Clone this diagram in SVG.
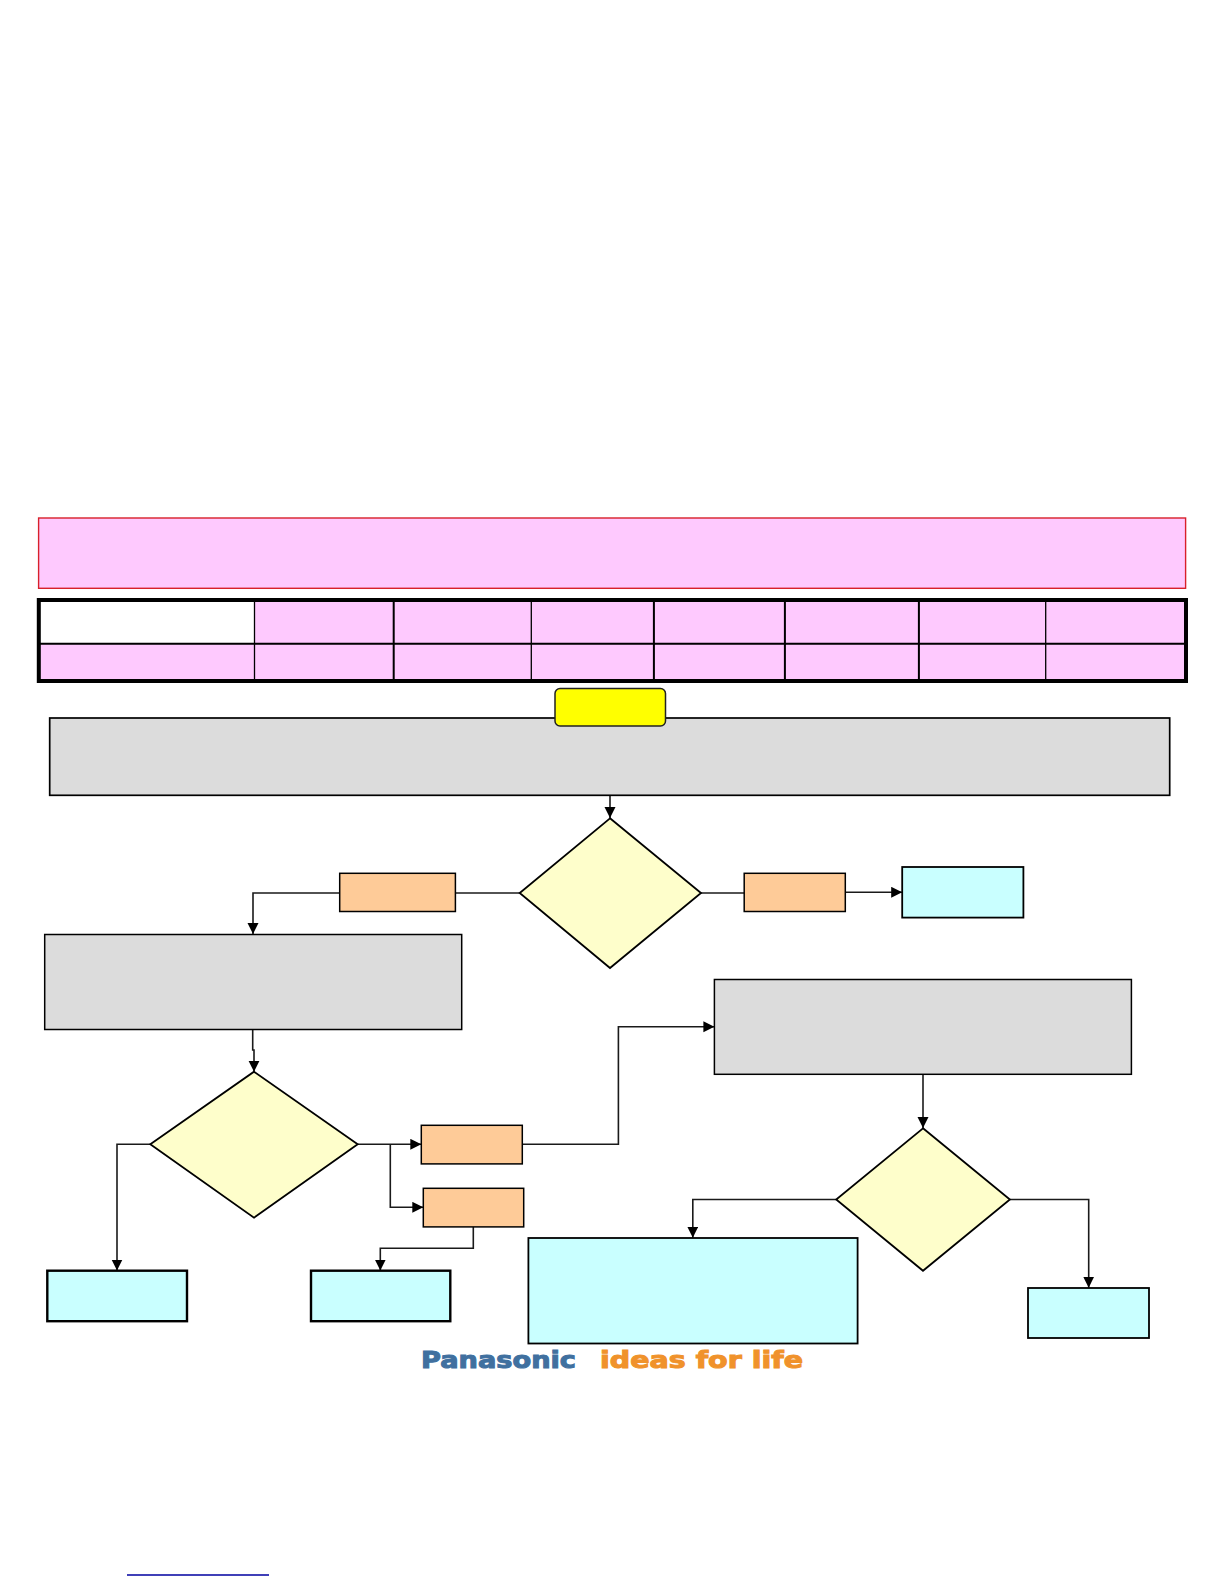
<svg xmlns="http://www.w3.org/2000/svg" width="1224" height="1584" viewBox="0 0 1224 1584">
<style>
.pink{fill:#fec9fe}
.grid{fill:none;stroke:#000}
.gray{fill:#dcdcdc;stroke:#000;stroke-width:1.5}
.orange{fill:#fecb98;stroke:#000;stroke-width:1.5}
.cyan{fill:#c9ffff;stroke:#000;stroke-width:2.4}
.dia{fill:#fefecb;stroke:#000;stroke-width:1.8;stroke-linejoin:miter}
.conn{fill:none;stroke:#1a1a1a;stroke-width:1.6}
.arr{marker-end:url(#ah)}
.logo{font-family:"DejaVu Sans",sans-serif;font-weight:bold;font-size:23px;stroke-width:1;paint-order:stroke}
</style>
<defs>
<marker id="ah" markerUnits="userSpaceOnUse" markerWidth="12" markerHeight="12" refX="11" refY="5.5" orient="auto">
<path d="M0,0 L11,5.5 L0,11 Z" fill="#000"/>
</marker>
</defs>
<rect width="1224" height="1584" fill="#fff"/>
<g id="banner"><rect x="38.6" y="518" width="1147" height="70.3" fill="#fec9fe" stroke="#d8202a" stroke-width="1.4"/></g>
<g id="table">
<rect class="pink" x="38.8" y="600" width="1147.2" height="81"/>
<rect x="38.8" y="600" width="215.7" height="43.7" fill="#fff"/>
<rect class="grid" x="38.8" y="600" width="1147.2" height="81" stroke-width="4"/>
<path class="grid" stroke-width="2" d="M38.8,643.7H1186M393.7,600V681M653.9,600V681M784.9,600V681M918.9,600V681"/>
<path class="grid" stroke-width="1.3" d="M254.5,600V681M531.3,600V681M1045.7,600V681"/>
</g>
<g id="connectors">
<path class="conn arr" d="M610,795V818"/>
<path class="conn" d="M520,893H455.4"/>
<path class="conn arr" d="M339.7,893H253V934"/>
<path class="conn" d="M701,893H744.2"/>
<path class="conn arr" d="M845.3,892.3H902.2"/>
<path class="conn arr" d="M252.7,1029.3V1050H254V1071.7"/>
<path class="conn arr" d="M150.3,1144.3H117V1270.5"/>
<path class="conn arr" d="M357.7,1144.3H421.3"/>
<path class="conn arr" d="M390.3,1144.3V1207.3H423.3"/>
<path class="conn arr" d="M522.3,1144.3H618.4V1026.7H714.4"/>
<path class="conn arr" d="M473.3,1226.7V1248.3H380.3V1270.5"/>
<path class="conn arr" d="M923,1074V1128"/>
<path class="conn arr" d="M836.2,1199.5H692.8V1237.7"/>
<path class="conn arr" d="M1009.9,1199.5H1088.7V1287.7"/>
</g>
<g id="process-1"><rect class="gray" x="49.7" y="718" width="1120" height="77.3" style="stroke-width:1.7"/></g>
<g id="start"><rect x="555" y="688.5" width="110.5" height="37.5" rx="5" fill="#ffff00" stroke="#222" stroke-width="1.5"/></g>
<g id="decision-1"><path class="dia" d="M610,818.3L701,893L610,968L519.7,893Z"/></g>
<g id="label-left"><rect class="orange" x="339.7" y="873.3" width="115.7" height="38.2"/></g>
<g id="label-right"><rect class="orange" x="744.2" y="873.3" width="101.1" height="38.2"/></g>
<g id="end-top"><rect class="cyan" style="stroke-width:1.8" x="902.2" y="867" width="121.2" height="50.6"/></g>
<g id="process-2"><rect class="gray" x="44.7" y="934.5" width="417" height="95"/></g>
<g id="process-3"><rect class="gray" x="714.4" y="979.5" width="417" height="94.8"/></g>
<g id="decision-2"><path class="dia" d="M254,1071.7L357.7,1144.3L254,1217.7L150.3,1144.3Z"/></g>
<g id="label-a"><rect class="orange" x="421.3" y="1125.3" width="101" height="38.6"/></g>
<g id="label-b"><rect class="orange" x="423.3" y="1188.3" width="100.4" height="38.6"/></g>
<g id="end-left"><rect class="cyan" x="47.3" y="1270.7" width="139.7" height="50.5"/></g>
<g id="end-middle"><rect class="cyan" x="311" y="1270.7" width="139.3" height="50.5"/></g>
<g id="decision-3"><path class="dia" d="M923,1128.3L1009.9,1199.5L923,1270.8L836.2,1199.5Z"/></g>
<g id="end-large"><rect class="cyan" style="stroke-width:1.8" x="528.4" y="1238" width="329.2" height="105.5"/></g>
<g id="end-right"><rect class="cyan" style="stroke-width:1.8" x="1028" y="1288" width="121" height="50"/></g>
<g id="logo">
<text class="logo" x="421" y="1368" textLength="155" lengthAdjust="spacingAndGlyphs" fill="#40709f" stroke="#40709f">Panasonic</text>
<text class="logo" x="600" y="1368" textLength="203" lengthAdjust="spacingAndGlyphs" fill="#f0922b" stroke="#f0922b">ideas for life</text>
</g>
<path id="link-underline" d="M127,1575H269" stroke="#0000a0" stroke-width="1.6" fill="none"/>
</svg>
